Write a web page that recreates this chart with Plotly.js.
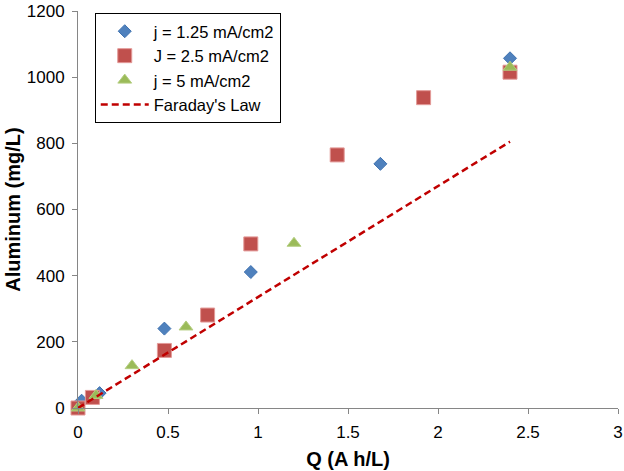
<!DOCTYPE html>
<html>
<head>
<meta charset="utf-8">
<script src="https://cdn.plot.ly/plotly-3.0.1.min.js"></script>
<style>
  html, body { margin: 0; padding: 0; background: #fff; }
  #plot { width: 624px; height: 471px; }
</style>
</head>
<body>
<div id="plot"></div>
<script>
// charge passed (A h/L) and dissolved aluminium (mg/L) per current density
let qLow = [0, 0.02, 0.12, 0.48, 0.96, 1.68, 2.4];
let alLow = [0, 22, 45, 240, 411, 738, 1057];

let qMid = [0, 0.08, 0.48, 0.72, 0.96, 1.44, 1.92, 2.4];
let alMid = [0, 32, 174, 281, 496, 765, 938, 1015];

let qHigh = [0, 0.1, 0.3, 0.6, 1.2, 2.4];
let alHigh = [0, 38, 128, 245, 498, 1030];

// theoretical line from Faraday's law
let qFaraday = [0, 2.4];
let alFaraday = [0, 805];

let seriesNames = ['j = 1.25 mA/cm2', 'J = 2.5 mA/cm2', 'j = 5 mA/cm2', "Faraday's Law"];

let axisColor = '#868686';
let fontFamily = '"Liberation Sans", Arial, sans-serif';

let data = [
  {
    x: qLow, y: alLow, name: seriesNames[0],
    mode: 'markers', type: 'scatter', cliponaxis: false,
    marker: { symbol: 'diamond', size: 10, color: '#4F81BD', line: { color: '#3F72B0', width: 1 } }
  },
  {
    x: qMid, y: alMid, name: seriesNames[1],
    mode: 'markers', type: 'scatter', cliponaxis: false,
    marker: { symbol: 'square', size: 14, color: '#C0504D', line: { color: '#E39A98', width: 1 } }
  },
  {
    x: qHigh, y: alHigh, name: seriesNames[2],
    mode: 'markers', type: 'scatter', cliponaxis: false,
    marker: { symbol: 'triangle-up', size: 12, color: '#9BBB59', line: { color: '#B4CE80', width: 1 } }
  },
  {
    x: qFaraday, y: alFaraday, name: seriesNames[3],
    mode: 'lines', type: 'scatter',
    line: { color: '#C00000', width: 2.5, dash: '7px,4px' }
  }
];

let layout = {
  width: 624,
  height: 471,
  paper_bgcolor: '#fff',
  plot_bgcolor: '#fff',
  font: { family: fontFamily, size: 17, color: '#000' },
  margin: { l: 78, r: 6, t: 11, b: 63 },
  showlegend: true,
  legend: {
    x: 0.031, y: 0.995, xanchor: 'left', yanchor: 'top',
    bgcolor: '#fff', bordercolor: '#000', borderwidth: 1,
    font: { family: fontFamily, size: 16.5, color: '#000' },
    itemwidth: 48,
    tracegroupgap: 0
  },
  xaxis: {
    range: [0, 3],
    dtick: 0.5,
    showgrid: false,
    zeroline: false,
    showline: true,
    linecolor: axisColor,
    linewidth: 1,
    ticks: 'outside',
    ticklen: 5,
    tickcolor: axisColor,
    ticklabelstandoff: 4,
    tickfont: { family: fontFamily, size: 17 },
    title: { text: '<b>Q (A h/L)</b>', font: { family: fontFamily, size: 20 }, standoff: 10 }
  },
  yaxis: {
    range: [0, 1200],
    dtick: 200,
    showgrid: false,
    zeroline: false,
    showline: true,
    linecolor: axisColor,
    linewidth: 1,
    ticks: 'outside',
    ticklen: 5,
    tickcolor: axisColor,
    ticklabelstandoff: 4,
    tickfont: { family: fontFamily, size: 17 },
    title: { text: '<b>Aluminum (mg/L)</b>', font: { family: fontFamily, size: 20 }, standoff: 0 }
  }
};

Plotly.newPlot('plot', data, layout, { staticPlot: true });
</script>
</body>
</html>
